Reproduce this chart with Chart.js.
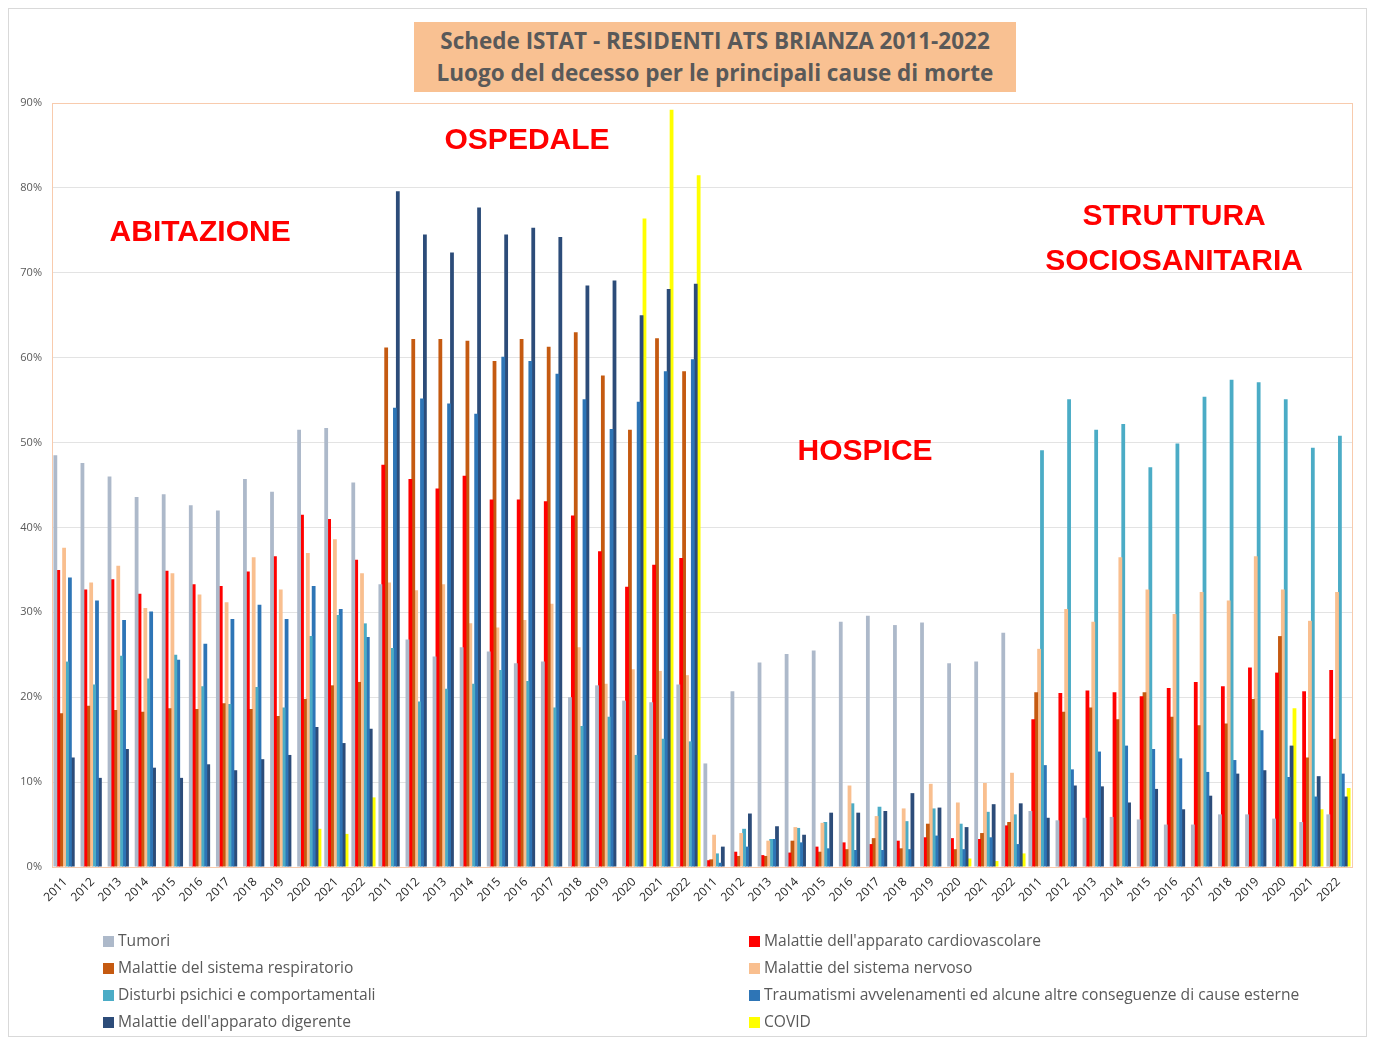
<!DOCTYPE html>
<html lang="it">
  <head>
    <meta charset="UTF-8" />
    <title>Luogo del decesso - ATS Brianza</title>
    <script src="https://cdn.jsdelivr.net/npm/chart.js"></script>
    <style>
      body {
        margin: 0;
        background: #fff;
        font-family: "Open Sans", sans-serif;
      }
      .wrap {
        position: relative;
        width: 1374px;
        height: 1039px;
      }
      .frame {
        position: absolute;
        left: 8px;
        top: 8px;
        width: 1359px;
        height: 1029px;
        border: 1px solid #d9d9d9;
        box-sizing: border-box;
      }
      canvas {
        position: absolute;
        left: 0;
        top: 0;
      }
      .title {
        position: absolute;
        left: 414px;
        top: 22px;
        width: 602px;
        height: 70px;
        background: #f9c192;
        color: #595959;
        font-weight: 700;
        font-size: 22.5px;
        line-height: 32px;
        text-align: center;
        padding-top: 3px;
        box-sizing: border-box;
        white-space: nowrap;
      }
      .legend {
        position: absolute;
        left: 0;
        top: 0;
      }
      .legend div {
        position: absolute;
        font-size: 15.6px;
        color: #595959;
        white-space: nowrap;
        line-height: 18px;
      }
      .legend span {
        display: inline-block;
        width: 11px;
        height: 11px;
        margin-right: 4px;
        vertical-align: -1px;
      }
    </style>
  </head>
  <body>
    <div class="wrap">
      <div class="frame"></div>
      <canvas id="chart" width="1374" height="1039"></canvas>
      <div class="title">
        Schede ISTAT - RESIDENTI ATS BRIANZA 2011-2022<br />
        Luogo del decesso per le principali cause di morte
      </div>
      <div class="legend" id="legend"></div>
    </div>

    <script>
      const years = ["2011", "2012", "2013", "2014", "2015", "2016",
        "2017", "2018", "2019", "2020", "2021", "2022"];
      const places = ["ABITAZIONE", "OSPEDALE", "HOSPICE", "STRUTTURA SOCIOSANITARIA"];

      // values in %, per place: Abitazione | Ospedale | Hospice | Struttura
      const tumori = [
        48.5, 47.6, 46.0, 43.6, 43.9, 42.6, 42.0, 45.7, 44.2, 51.5, 51.7, 45.3,
        33.3, 26.8, 24.8, 25.9, 25.4, 24.0, 24.2, 20.0, 21.4, 19.6, 19.4, 21.5,
        12.2, 20.7, 24.1, 25.1, 25.5, 28.9, 29.6, 28.5, 28.8, 24.0, 24.2, 27.6,
        6.6, 5.5, 5.8, 5.9, 5.6, 5.0, 5.0, 6.2, 6.2, 5.7, 5.3, 6.2,
      ];
      const cardio = [
        35.0, 32.7, 33.9, 32.2, 34.9, 33.3, 33.1, 34.8, 36.6, 41.5, 41.0, 36.2,
        47.4, 45.7, 44.6, 46.1, 43.3, 43.3, 43.1, 41.4, 37.2, 33.0, 35.6, 36.4,
        0.8, 1.8, 1.4, 1.7, 2.4, 2.9, 2.7, 3.1, 3.5, 3.4, 3.3, 4.9,
        17.4, 20.5, 20.8, 20.6, 20.1, 21.1, 21.8, 21.3, 23.5, 22.9, 20.7, 23.2,
      ];
      const respiratorio = [
        18.1, 19.0, 18.5, 18.3, 18.7, 18.6, 19.3, 18.6, 17.8, 19.8, 21.4, 21.8,
        61.2, 62.2, 62.2, 62.0, 59.6, 62.2, 61.3, 63.0, 57.9, 51.5, 62.3, 58.4,
        0.9, 1.3, 1.3, 3.1, 1.8, 2.1, 3.4, 2.2, 5.1, 2.1, 4.0, 5.3,
        20.6, 18.3, 18.8, 17.4, 20.6, 17.7, 16.7, 16.9, 19.8, 27.2, 12.9, 15.1,
      ];
      const nervoso = [
        37.6, 33.5, 35.5, 30.5, 34.6, 32.1, 31.2, 36.5, 32.7, 37.0, 38.6, 34.6,
        33.5, 32.6, 33.3, 28.7, 28.2, 29.1, 31.0, 25.9, 21.6, 23.3, 23.1, 22.6,
        3.8, 4.0, 3.1, 4.7, 5.2, 9.6, 6.0, 6.9, 9.8, 7.6, 9.9, 11.1,
        25.7, 30.4, 28.9, 36.5, 32.7, 29.8, 32.4, 31.4, 36.6, 32.7, 29.0, 32.4,
      ];
      const psichici = [
        24.2, 21.5, 24.9, 22.2, 25.0, 21.3, 19.2, 21.2, 18.8, 27.2, 29.7, 28.7,
        25.8, 19.5, 21.0, 21.6, 23.2, 21.9, 18.8, 16.6, 17.7, 13.2, 15.1, 14.8,
        1.6, 4.5, 3.3, 4.6, 5.3, 7.5, 7.1, 5.4, 6.9, 5.1, 6.5, 6.2,
        49.1, 55.1, 51.5, 52.2, 47.1, 49.9, 55.4, 57.4, 57.1, 55.1, 49.4, 50.8,
      ];
      const traumatismi = [
        34.1, 31.4, 29.1, 30.1, 24.4, 26.3, 29.2, 30.9, 29.2, 33.1, 30.4, 27.1,
        54.1, 55.2, 54.6, 53.4, 60.1, 59.6, 58.1, 55.1, 51.6, 54.8, 58.4, 59.8,
        0.5, 2.4, 3.3, 2.9, 2.2, 2.0, 2.0, 2.1, 3.7, 2.1, 3.5, 2.7,
        12.0, 11.5, 13.6, 14.3, 13.9, 12.8, 11.2, 12.6, 16.1, 10.6, 8.3, 11.0,
      ];
      const digerente = [
        12.9, 10.5, 13.9, 11.7, 10.5, 12.1, 11.4, 12.7, 13.2, 16.5, 14.6, 16.3,
        79.6, 74.5, 72.4, 77.7, 74.5, 75.3, 74.2, 68.5, 69.1, 65.0, 68.1, 68.7,
        2.4, 6.3, 4.8, 3.8, 6.4, 6.4, 6.6, 8.7, 7.0, 4.7, 7.4, 7.5,
        5.8, 9.6, 9.5, 7.6, 9.2, 6.8, 8.4, 11.0, 11.4, 14.3, 10.7, 8.3,
      ];
      const covid = [
        null, null, null, null, null, null, null, null, null, 4.5, 3.9, 8.2,
        null, null, null, null, null, null, null, null, null, 76.4, 89.2, 81.5,
        null, null, null, null, null, null, null, null, null, 1.0, 0.7, 1.6,
        null, null, null, null, null, null, null, null, null, 18.7, 6.8, 9.3,
      ];
      const yTicks = [0, 10, 20, 30, 40, 50, 60, 70, 80, 90];

      const series = [
        { label: "Tumori", data: tumori, color: "#adb9ca" },
        { label: "Malattie dell'apparato cardiovascolare", data: cardio, color: "#ff0000" },
        { label: "Malattie del sistema respiratorio", data: respiratorio, color: "#c55a11" },
        { label: "Malattie del sistema nervoso", data: nervoso, color: "#f9bf8f" },
        { label: "Disturbi psichici e comportamentali", data: psichici, color: "#4bacc6" },
        { label: "Traumatismi avvelenamenti ed alcune altre conseguenze di cause esterne", data: traumatismi, color: "#2e75b6" },
        { label: "Malattie dell'apparato digerente", data: digerente, color: "#2c4c79" },
        { label: "COVID", data: covid, color: "#ffff00" },
      ];

      const labels = [];
      places.forEach(() => years.forEach((y) => labels.push(y)));

      // place names: [category index, y value, lines]
      const placeNotes = [
        [4.97, 74.7, ["ABITAZIONE"]],
        [17.04, 85.5, ["OSPEDALE"]],
        [29.52, 48.9, ["HOSPICE"]],
        [40.93, 76.6, ["STRUTTURA", "SOCIOSANITARIA"]],
      ];

      const plotBox = {
        id: "plotBox",
        afterDraw(chart) {
          const { ctx, chartArea: a } = chart;
          ctx.save();
          ctx.strokeStyle = "#f8cbad";
          ctx.lineWidth = 1;
          ctx.strokeRect(a.left + 0.5, a.top + 0.5, a.right - a.left, a.bottom - a.top);
          const xs = chart.scales.x;
          const ys = chart.scales.y;
          ctx.fillStyle = "#ff0000";
          ctx.font = "bold 30px 'Liberation Sans', Arial, sans-serif";
          ctx.textAlign = "center";
          ctx.textBaseline = "middle";
          placeNotes.forEach(([idx, v, lines]) => {
            const x = xs.getPixelForValue(idx);
            const y = ys.getPixelForValue(v);
            lines.forEach((t, i) => ctx.fillText(t, x, y + i * 45));
          });
          ctx.restore();
        },
      };

      const chart = new Chart(document.getElementById("chart"), {
        type: "bar",
        data: {
          labels: labels,
          datasets: series.map((s) => ({
            label: s.label,
            data: s.data,
            backgroundColor: s.color,
            borderWidth: 0,
            categoryPercentage: 0.86,
            barPercentage: 1.3,
          })),
        },
        options: {
          responsive: false,
          animation: false,
          layout: { padding: { left: 8, right: 22, top: 103, bottom: 127 } },
          plugins: {
            legend: { display: false },
            tooltip: { enabled: false },
          },
          scales: {
            x: {
              grid: { display: false },
              border: { color: "#f8cbad" },
              ticks: {
                autoSkip: false,
                maxRotation: 45,
                minRotation: 45,
                color: "#262626",
                font: { family: "'Open Sans', sans-serif", size: 12 },
                padding: 0,
              },
              afterFit: (s) => { s.height = 45; },
            },
            y: {
              min: 0,
              max: 90,
              afterBuildTicks: (s) => { s.ticks = yTicks.map((v) => ({ value: v })); },
              grid: { color: "#e3e3e3", drawTicks: false },
              border: { display: false },
              ticks: {
                callback: (v) => v + "%",
                color: "#595959",
                font: { family: "'Open Sans', sans-serif", size: 11 },
                padding: 10,
              },
              afterFit: (s) => { s.width = 44; },
            },
          },
        },
        plugins: [plotBox],
      });

      // legend in two columns, like the original
      const legend = document.getElementById("legend");
      series.forEach((s, i) => {
        const item = document.createElement("div");
        item.style.left = (i % 2 === 0 ? 103 : 749) + "px";
        item.style.top = 931 + Math.floor(i / 2) * 27 + "px";
        item.innerHTML = '<span style="background:' + s.color + '"></span>';
        item.appendChild(document.createTextNode(s.label));
        legend.appendChild(item);
      });
    </script>
  </body>
</html>
